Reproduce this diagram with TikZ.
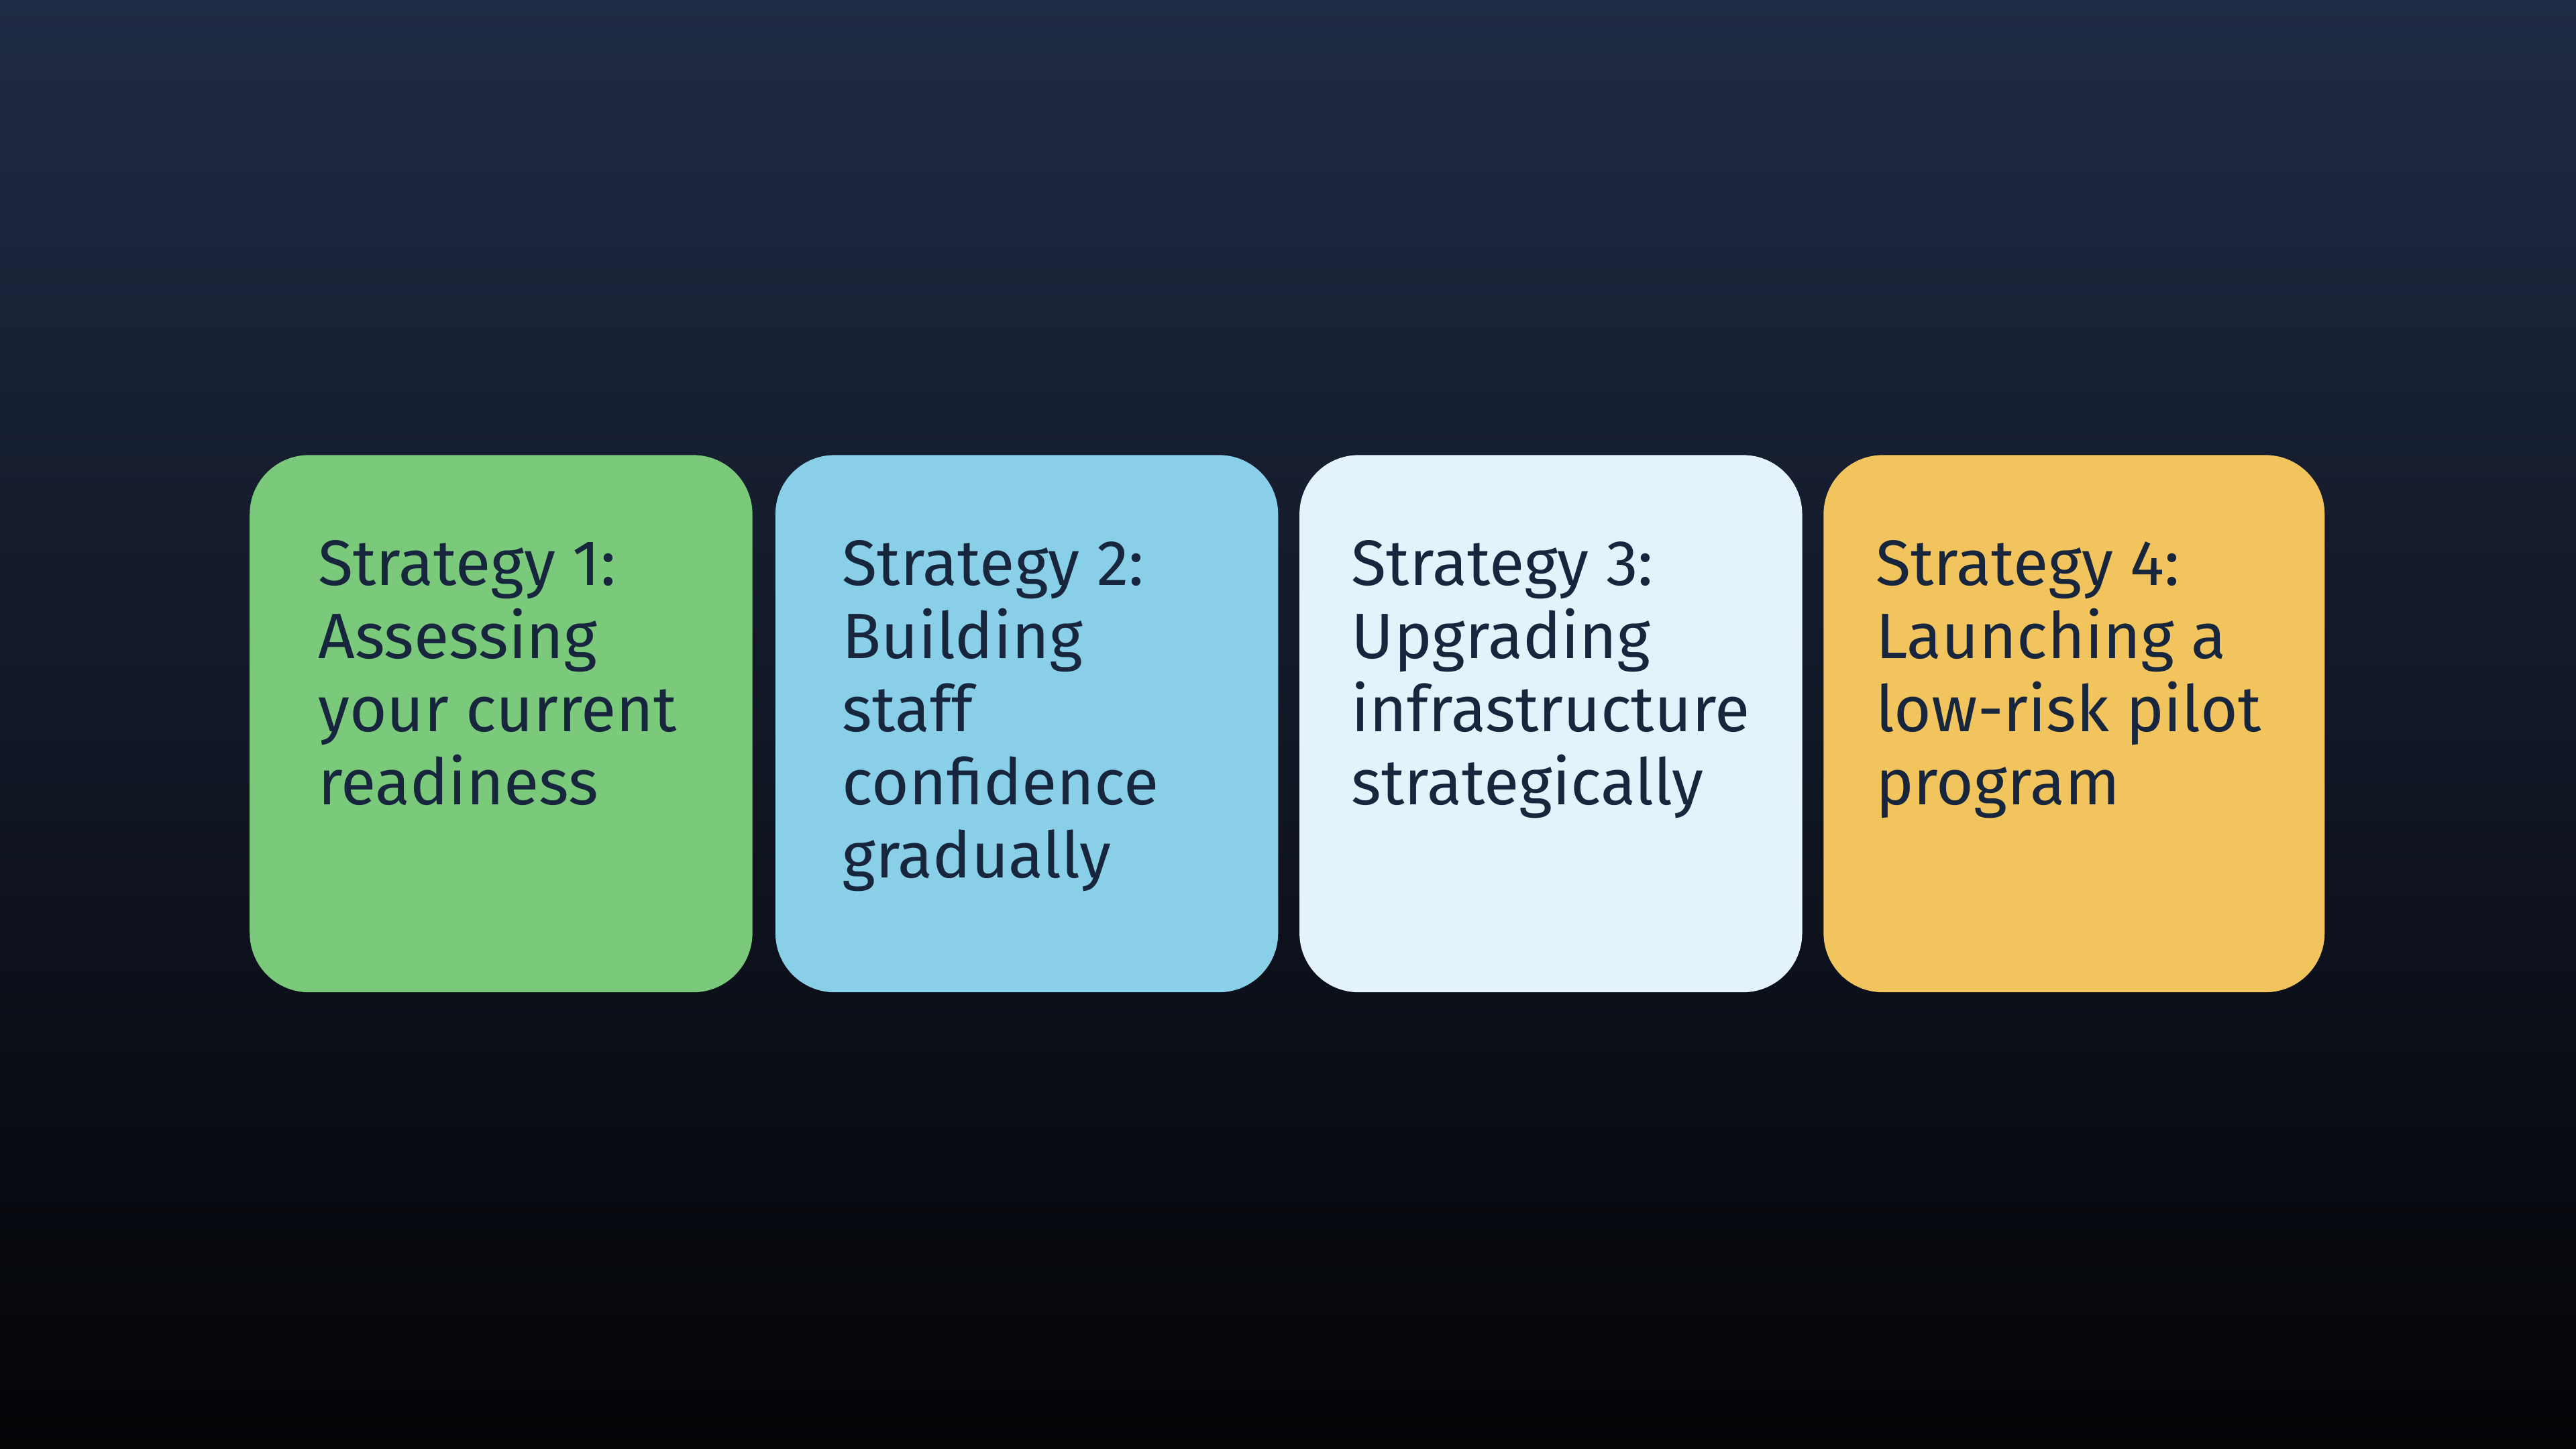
\documentclass[tikz,border=0pt]{standalone}
\usepackage{fontspec}
\setmainfont{Fira Sans}
\definecolor{bgtop}{HTML}{1F2A44}
\definecolor{bgbot}{HTML}{030406}
\definecolor{ink}{HTML}{17263D}
\definecolor{cgreen}{HTML}{7BC97A}
\definecolor{cblue}{HTML}{89CFE8}
\definecolor{clight}{HTML}{E4F3FB}
\definecolor{cyellow}{HTML}{F2C45E}
\begin{document}
\begin{tikzpicture}[x=0.01cm,y=-0.01cm,
  card/.style={rounded corners=0.36cm},
  lbl/.style={anchor=north west,inner sep=0pt,align=left,text=ink,
    font=\fontsize{11.1pt}{12.66pt}\selectfont}]
\useasboundingbox (0,0) rectangle (1568,882);
\shade[top color=bgtop,bottom color=bgbot,middle color=bgtop!50!bgbot] (0,0) rectangle (1568,882);
\fill[card,cgreen] (152,277) rectangle (458,604);
\fill[card,cblue] (472,277) rectangle (778,604);
\fill[card,clight] (791,277) rectangle (1097,604);
\fill[card,cyellow] (1110,277) rectangle (1415,604);
\node[lbl] (t1) at (193,328) {Strategy 1:\\Assessing\\your current\\readiness};
\node[lbl] (t2) at (512,328) {Strategy 2:\\Building\\staff\\confidence\\gradually};
\node[lbl] (t3) at (822,328) {Strategy 3:\\Upgrading\\infrastructure\\strategically};
\node[lbl] (t4) at (1141,328) {Strategy 4:\\Launching a\\low-risk pilot\\program};
\end{tikzpicture}
\end{document}
